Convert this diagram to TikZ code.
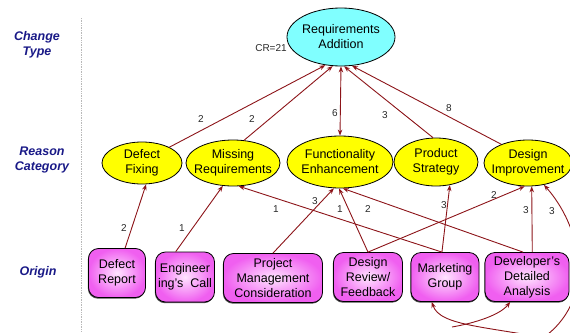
\documentclass[tikz,border=0pt]{standalone}
\usepackage{fontspec}
\setmainfont{Liberation Sans}
\usetikzlibrary{shapes.geometric,arrows.meta,shadows}
\definecolor{edgec}{RGB}{140,20,25}
\definecolor{navyc}{RGB}{25,25,135}
\definecolor{cyanc}{RGB}{128,255,255}
\definecolor{yellowc}{RGB}{255,255,0}
\definecolor{boxout}{RGB}{240,95,240}
\definecolor{boxin}{RGB}{255,228,255}
\definecolor{lblc}{RGB}{40,40,40}
\begin{document}
\begin{tikzpicture}[x=1pt,y=-1pt,
  txt/.style={font=\fontsize{12.5}{15}\selectfont, align=center, inner sep=0pt, text=black},
  side/.style={font=\fontsize{12.5}{15}\selectfont\bfseries\itshape, align=center, inner sep=0pt, text=navyc},
  typeell/.style={ellipse, draw=black, line width=0.8pt, fill=cyanc, inner sep=0pt},
  reason/.style={ellipse, draw=black, line width=0.8pt, fill=yellowc, inner sep=0pt},
  origin/.style={rectangle, rounded corners=10pt, draw=black, line width=0.8pt, inner sep=0pt,
     inner color=boxin, outer color=boxout, align=center, font=\fontsize{12.5}{15}\selectfont,
     drop shadow={shadow xshift=-0.6pt, shadow yshift=-1.2pt, fill=black!70, opacity=1}},
  edge/.style={draw=edgec, line width=0.9pt, -{Stealth[length=6pt,width=4.5pt]}},
  edgetwo/.style={draw=edgec, line width=0.9pt, {Stealth[length=6pt,width=4.5pt]}-{Stealth[length=6pt,width=4.5pt]}},
  num/.style={font=\fontsize{10}{12}\selectfont, text=lblc, inner sep=0pt}
]
\useasboundingbox (0,0) rectangle (570,332);
\clip (0,0) rectangle (570,332);

% separator
\draw[gray!55, line width=0.7pt, densely dotted] (81,18) -- (81,332);

% side labels
\node[side] (lchange) at (37,45) {Change\\Type};
\node[side] (lreason) at (42,160) {Reason\\Category};
\node[side] (lorigin) at (38,272) {Origin};

% change type
\node[typeell, minimum width=108pt, minimum height=58pt] (ra) at (341,37) {};
\node[txt] (rat) at (ra) {Requirements\\Addition};
\node[num] (cr) at (271,48) {CR=21};

% reason category
\node[reason, minimum width=80pt, minimum height=42pt] (df) at (142,163) {};
\node[txt] (dft) at (df) {Defect\\Fixing};
\node[reason, minimum width=94pt, minimum height=46pt] (mr) at (233,163) {};
\node[txt] (mrt) at (mr) {Missing\\Requirements};
\node[reason, minimum width=106pt, minimum height=52pt] (fe) at (340,162) {};
\node[txt] (fet) at (fe) {Functionality\\Enhancement};
\node[reason, minimum width=84pt, minimum height=48pt] (ps) at (436,162) {};
\node[txt] (pst) at (ps) {Product\\Strategy};
\node[reason, minimum width=88pt, minimum height=46pt] (di) at (528,163) {};
\node[txt] (dit) at (di) {Design\\Improvement};

% origin
\node[origin, minimum width=57pt, minimum height=49pt] (dr) at (117,273) {Defect\\Report};
\node[origin, minimum width=59pt, minimum height=50pt] (ec) at (185,277) {Engineer\\ing's~~Call};
\node[origin, minimum width=99pt, minimum height=49pt] (pmc) at (273,278) {Project\\Management\\Consideration};
\node[origin, minimum width=69pt, minimum height=49pt] (drf) at (368,277) {Design\\Review/\\Feedback};
\node[origin, minimum width=68pt, minimum height=49pt] (mg) at (445,277) {Marketing\\Group};
\node[origin, minimum width=84pt, minimum height=49pt] (dda) at (527,277) {Developer's\\Detailed\\Analysis};

% reason -> change type
\draw[edge] (df.30) -- (ra.241);
\node[num] (n1) at (201,119) {2};
\draw[edge] (mr.64) -- (ra.254);
\node[num] (n2) at (252,119) {2};
\draw[edgetwo] (fe.north) -- (ra.south);
\node[num] (n3) at (335,113) {6};
\draw[edge] (ps.97) -- (ra.276);
\node[num] (n4) at (385,115) {3};
\draw[edge] (di.145) -- (ra.291);
\node[num] (n5) at (449,108) {8};

% origin -> reason
\draw[edge] (dr.72) -- (df.281);
\node[num] (m1) at (124,228) {2};
\draw[edge] (ec.110) -- (mr.246);
\node[num] (m2) at (182,228) {1};
\draw[edge] (pmc.north) -- (fe.257);
\node[num] (m3) at (315,201) {3};
\draw[edge] (drf.north) -- (fe.268);
\node[num] (m4) at (340,209) {1};
\draw[edge] (mg.97) -- (mr.284);
\node[num] (m5) at (276,209) {1};
\draw[edge] (dda.99) -- (fe.276);
\node[num] (m6) at (368,209) {2};
\draw[edge] (drf.north) -- (di.262);
\node[num] (m7) at (494,195) {2};
\draw[edge] (mg.97) -- (ps.301);
\node[num] (m8) at (444,205) {3};
\draw[edge] (dda.78) -- (di.279);
\node[num] (m9) at (526,210) {3};

% curves leaving the picture
\coordinate (ca) at (565,342);
\coordinate (cb) at (452,327);
\coordinate (cc) at (540,340);
\draw[edge] (ca) .. controls (490,326) and (440,327) .. (mg.242);
\draw[edge] (cb) .. controls (475,323) and (500,315) .. (dda.236);
\draw[edge] (cc) .. controls (600,300) and (580,225) .. (di.306);
\node[num] (m10) at (552,211) {3};
\end{tikzpicture}
\end{document}
